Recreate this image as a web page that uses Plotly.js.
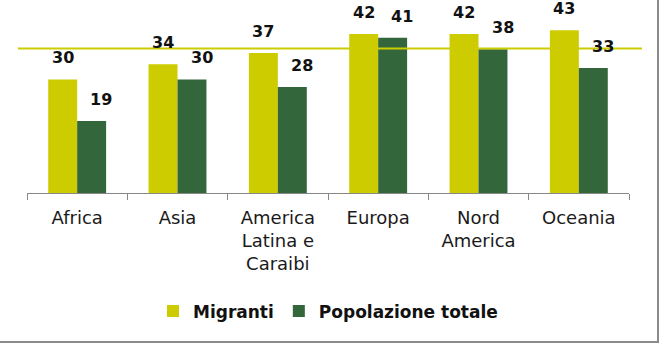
<!DOCTYPE html>
<html>
<head>
<meta charset="utf-8">
<script src="https://cdn.plot.ly/plotly-3.0.1.min.js"></script>
<style>
  html, body { margin: 0; padding: 0; background: #fff; }
  #chart { width: 662px; height: 360px; position: absolute; left: 0; top: 0; }
  #frame { position: absolute; left: 0; top: 0; width: 657px; height: 341px;
           border-right: 2px solid #8a8a8a; border-bottom: 2px solid #8a8a8a; pointer-events: none; }
</style>
</head>
<body>
<div id="chart"></div>
<div id="frame"></div>
<script>
const categories = ["Africa", "Asia", "America<br>Latina e<br>Caraibi", "Europa", "Nord<br>America", "Oceania"];
const migranti = [30, 34, 37, 42, 42, 43];
const popolazioneTotale = [19, 30, 28, 41, 38, 33];
const seriesNames = ["Migranti", "Popolazione totale"];
const referenceLine = 38.2;

const yellow = "#cccc00";
const green = "#33663a";

const traces = [
  { type: "bar", name: seriesNames[0], x: categories, y: migranti, marker: { color: yellow }, hoverinfo: "skip" },
  { type: "bar", name: seriesNames[1], x: categories, y: popolazioneTotale, marker: { color: green }, hoverinfo: "skip" }
];

const labelFont = { family: "DejaVu Sans", size: 16, color: "#111", weight: "bold" };
const annotations = [];
categories.forEach((c, i) => {
  annotations.push({ x: c, y: migranti[i], text: String(migranti[i]), showarrow: false,
    xref: "x", yref: "y", xshift: -14.5, yshift: 21.5, yanchor: "middle", font: labelFont });
  annotations.push({ x: c, y: popolazioneTotale[i], text: String(popolazioneTotale[i]), showarrow: false,
    xref: "x", yref: "y", xshift: 24, yshift: 21.5, yanchor: "middle", font: labelFont });
});

const layout = {
  width: 662, height: 360,
  margin: { l: 27, r: 33, t: 10, b: 167 },
  paper_bgcolor: "#fff", plot_bgcolor: "#fff",
  barmode: "group", bargap: 0.423, bargroupgap: 0,
  showlegend: true,
  legend: { orientation: "h", x: 0.5, xanchor: "center", y: -0.647, yanchor: "middle",
    font: { family: "DejaVu Sans", size: 17, color: "#111", weight: 600 }, itemclick: false },
  xaxis: { type: "category", showline: true, linecolor: "#888", linewidth: 1,
    ticks: "outside", tickson: "boundaries", ticklen: 6, tickcolor: "#888", ticklabelstandoff: 8,
    tickfont: { family: "DejaVu Sans", size: 18, color: "#1a1a1a" }, showgrid: false, fixedrange: true },
  yaxis: { range: [0, 48.36], visible: false, showgrid: false, zeroline: false, fixedrange: true },
  shapes: [{ type: "line", xref: "paper", yref: "y", x0: -0.015, x1: 1.0216,
    y0: referenceLine, y1: referenceLine, line: { color: yellow, width: 2 }, layer: "above" }],
  annotations: annotations
};

Plotly.newPlot("chart", traces, layout, { staticPlot: true, displayModeBar: false });
</script>
</body>
</html>
